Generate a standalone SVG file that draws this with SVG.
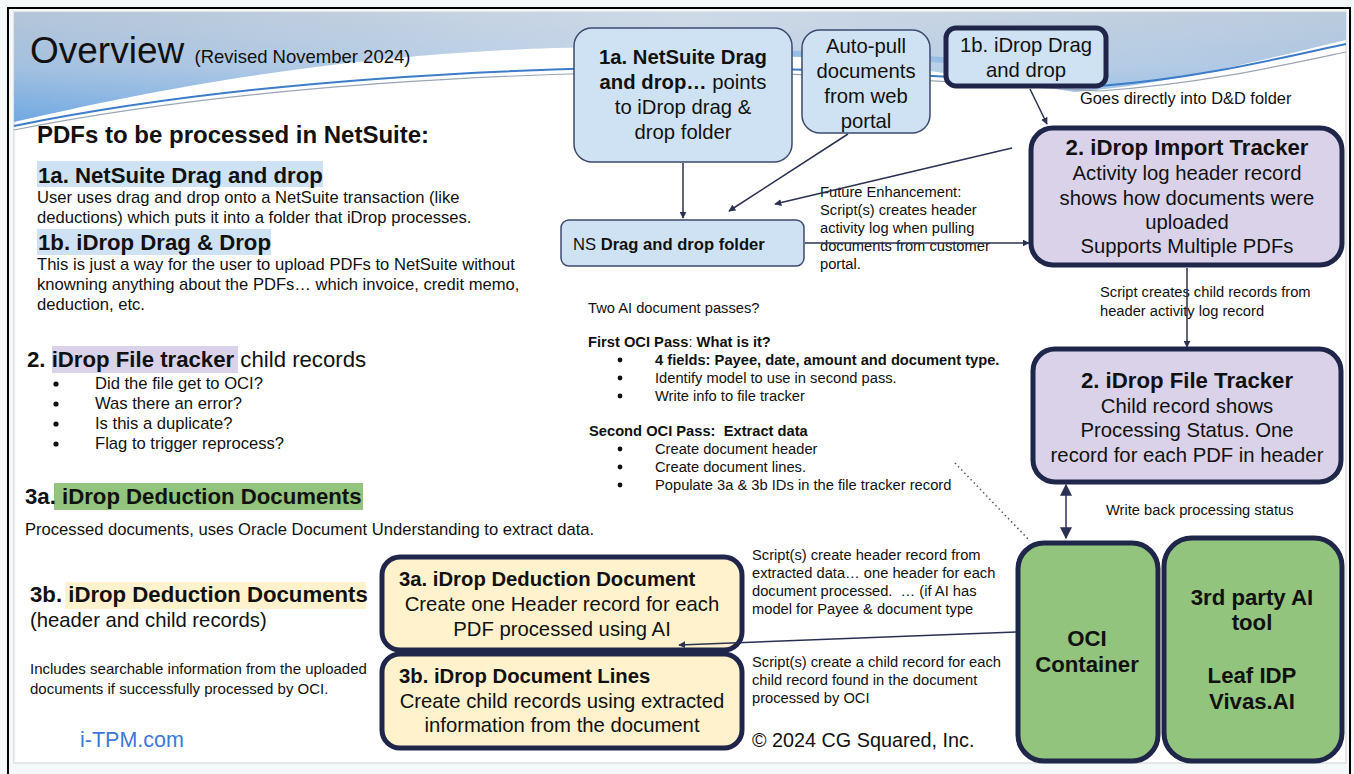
<svg xmlns="http://www.w3.org/2000/svg" width="1354" height="774" viewBox="0 0 1354 774">
<defs>
<linearGradient id="bandG" x1="0" y1="0" x2="0" y2="1">
<stop offset="0" stop-color="#b4c5d8"/>
<stop offset="0.5" stop-color="#a3c0e0"/>
<stop offset="1" stop-color="#70a9e2"/>
</linearGradient>
<linearGradient id="bandH" x1="0" y1="0" x2="1" y2="0">
<stop offset="0" stop-color="#ffffff" stop-opacity="0"/>
<stop offset="0.5" stop-color="#ffffff" stop-opacity="0.35"/>
<stop offset="1" stop-color="#ffffff" stop-opacity="0.1"/>
</linearGradient>
<marker id="ah" viewBox="0 0 10 10" refX="9" refY="5" markerWidth="7" markerHeight="7" orient="auto-start-reverse" markerUnits="userSpaceOnUse">
<path d="M0,0 L10,5 L0,10 Z" fill="#2b3152"/>
</marker>
<marker id="ah2" viewBox="0 0 10 10" refX="9" refY="5" markerWidth="12" markerHeight="12" orient="auto-start-reverse" markerUnits="userSpaceOnUse">
<path d="M0,0 L10,5 L0,10 Z" fill="#2b3152"/>
</marker>
</defs>
<style>
text{font-family:"Liberation Sans",Arial,sans-serif;fill:#111}
.b{font-weight:bold}
.c{text-anchor:middle}
.lb{fill:#cfe2f3;stroke:#3e4a6e;stroke-width:1.5}
.thk{stroke:#20264a;stroke-width:5}
.pu{fill:#d9d2e9}
.gr{fill:#93c47d}
.ye{fill:#fff2cc}
.con{stroke:#2b3152;stroke-width:1.5;fill:none}
.sm{font-size:14.7px}
.s15{font-size:15px}
.s16{font-size:16.6px}
.bx{font-size:20.3px}
.s22{font-size:22.2px}
</style>
<rect x="0" y="0" width="1354" height="774" fill="#f4f8f9"/>
<rect x="8" y="8" width="1342" height="780" fill="none" stroke="#000" stroke-width="2"/>
<rect x="14" y="12" width="1332" height="751" fill="#fff" stroke="#cfd4d6" stroke-width="1"/>
<g id="background">
<path d="M14,12 H1346 V40 C1270,58 1170,84 1075,92 C940,72 820,52 600,47 C360,50 160,88 14,122 Z" fill="url(#bandG)"/>
<path d="M14,12 H1346 V40 C1270,58 1170,84 1075,92 C940,72 820,52 600,47 C360,50 160,88 14,122 Z" fill="url(#bandH)"/>
<path d="M14,126 C180,92 380,74 600,68 C800,64 960,78 1100,86 C1200,78 1280,58 1346,44" fill="none" stroke="#3c7cc8" stroke-width="2"/>
<path d="M14,130 C180,97 380,79 600,73 C800,69 960,83 1100,91 C1200,84 1280,66 1346,52" fill="none" stroke="#9aa6b2" stroke-width="1.2"/>
<path d="M700,56 C820,50 930,56 1040,70" fill="none" stroke="#7fb0e4" stroke-width="6" opacity="0.6"/>
</g>
<g id="left-text">
<text x="30" y="63" style="font-size:37px">Overview <tspan style="font-size:18.5px">(Revised November 2024)</tspan></text>
<text x="37" y="143" class="b" style="font-size:24px">PDFs to be processed in NetSuite:</text>
<rect x="37" y="161" width="286" height="26" fill="#cfe2f3"/>
<text x="38" y="183" class="b s22">1a. NetSuite Drag and drop</text>
<text x="37" y="203" class="s16">User uses drag and drop onto a NetSuite transaction (like</text>
<text x="37" y="223" class="s16">deductions) which puts it into a folder that iDrop processes.</text>
<rect x="37" y="229" width="234" height="26" fill="#cfe2f3"/>
<text x="38" y="250" class="b s22">1b. iDrop Drag &amp; Drop</text>
<text x="37" y="270" class="s16">This is just a way for the user to upload PDFs to NetSuite without</text>
<text x="37" y="290" class="s16">knowning anything about the PDFs… which invoice, credit memo,</text>
<text x="37" y="310" class="s16">deduction, etc.</text>
<rect x="52" y="346" width="186" height="27" fill="#d9d2e9"/>
<text x="27" y="367" class="s22"><tspan class="b">2. iDrop File tracker</tspan> child records</text>
<g class="s16">
<circle cx="56" cy="384" r="2.6" fill="#111"/><text x="95" y="389">Did the file get to OCI?</text>
<circle cx="56" cy="404" r="2.6" fill="#111"/><text x="95" y="409">Was there an error?</text>
<circle cx="56" cy="424" r="2.6" fill="#111"/><text x="95" y="429">Is this a duplicate?</text>
<circle cx="56" cy="444" r="2.6" fill="#111"/><text x="95" y="449">Flag to trigger reprocess?</text>
</g>
<rect x="54" y="483" width="309" height="27" fill="#93c47d"/>
<text x="25" y="504" class="b s22">3a. iDrop Deduction Documents</text>
<text x="25" y="535" class="s16">Processed documents, uses Oracle Document Understanding to extract data.</text>
<rect x="65" y="582" width="301" height="27" fill="#fff2cc"/>
<text x="30" y="602" class="b s22">3b. iDrop Deduction Documents</text>
<text x="30" y="627" style="font-size:20.3px">(header and child records)</text>
<text x="30" y="674" class="s15">Includes searchable information from the uploaded</text>
<text x="30" y="694" class="s15">documents if successfully processed by OCI.</text>
<text x="80" y="747" style="font-size:21.5px;fill:#3c78d8">i-TPM.com</text>
</g>
<g id="middle-text" class="sm">
<text x="588" y="313">Two AI document passes?</text>
<text x="588" y="347"><tspan class="b">First OCI Pass</tspan>: <tspan class="b">What is it?</tspan></text>
<circle cx="620" cy="360" r="2.4" fill="#111"/><text x="655" y="365" class="b">4 fields: Payee, date, amount and document type.</text>
<circle cx="620" cy="378" r="2.4" fill="#111"/><text x="655" y="383">Identify model to use in second pass.</text>
<circle cx="620" cy="396" r="2.4" fill="#111"/><text x="655" y="401">Write info to file tracker</text>
<text x="589" y="436" class="b">Second OCI Pass:&#160; Extract data</text>
<circle cx="620" cy="449" r="2.4" fill="#111"/><text x="655" y="454">Create document header</text>
<circle cx="620" cy="467" r="2.4" fill="#111"/><text x="655" y="472">Create document lines.</text>
<circle cx="620" cy="485" r="2.4" fill="#111"/><text x="655" y="490">Populate 3a &amp; 3b IDs in the file tracker record</text>
<text x="820" y="197">Future Enhancement:</text>
<text x="820" y="215">Script(s) creates header</text>
<text x="820" y="233">activity log when pulling</text>
<text x="820" y="251">documents from customer</text>
<text x="820" y="269">portal.</text>
<text x="1080" y="104" style="font-size:16.4px">Goes directly into D&amp;D folder</text>
<text x="1100" y="297">Script creates child records from</text>
<text x="1100" y="316">header activity log record</text>
<text x="1106" y="515">Write back processing status</text>
<text x="752" y="560">Script(s) create header record from</text>
<text x="752" y="578">extracted data… one header for each</text>
<text x="752" y="596">document processed.&#160; … (if AI has</text>
<text x="752" y="614">model for Payee &amp; document type</text>
<text x="752" y="667">Script(s) create a child record for each</text>
<text x="752" y="685">child record found in the document</text>
<text x="752" y="703">processed by OCI</text>
<text x="752" y="747" style="font-size:19.8px">© 2024 CG Squared, Inc.</text>
</g>
<g id="n1a">
<rect x="574" y="28" width="218" height="134" rx="18" class="lb"/>
<text x="683" y="64" class="c bx b">1a. NetSuite Drag</text>
<text x="683" y="89" class="c bx"><tspan class="b">and drop…</tspan> points</text>
<text x="683" y="114" class="c bx">to iDrop drag &amp;</text>
<text x="683" y="139" class="c bx">drop folder</text>
</g>
<g id="nAuto">
<rect x="802" y="30" width="128" height="103" rx="18" class="lb"/>
<text x="866" y="53" class="c bx">Auto-pull</text>
<text x="866" y="78" class="c bx">documents</text>
<text x="866" y="103" class="c bx">from web</text>
<text x="866" y="128" class="c bx">portal</text>
</g>
<g id="n1b">
<rect x="946" y="28" width="160" height="58" rx="10" fill="#cfe2f3" class="thk"/>
<text x="1026" y="52" class="c bx">1b. iDrop Drag</text>
<text x="1026" y="77" class="c bx">and drop</text>
</g>
<g id="nFolder">
<rect x="561" y="220" width="243" height="46" rx="8" class="lb"/>
<text x="573" y="250" style="font-size:16.6px">NS <tspan class="b">Drag and drop folder</tspan></text>
</g>
<g id="nImport">
<rect x="1031" y="128" width="311" height="137" rx="22" class="pu thk"/>
<text x="1187" y="155" class="c b s22">2. iDrop Import Tracker</text>
<text x="1187" y="180" class="c bx">Activity log header record</text>
<text x="1187" y="205" class="c bx">shows how documents were</text>
<text x="1187" y="229" class="c bx">uploaded</text>
<text x="1187" y="253" class="c bx">Supports Multiple PDFs</text>
</g>
<g id="nFile">
<rect x="1033" y="349" width="308" height="133" rx="22" class="pu thk"/>
<text x="1187" y="388" class="c b s22">2. iDrop File Tracker</text>
<text x="1187" y="413" class="c bx">Child record shows</text>
<text x="1187" y="437" class="c bx">Processing Status. One</text>
<text x="1187" y="462" class="c bx">record for each PDF in header</text>
</g>
<g id="nOCI">
<rect x="1018" y="543" width="140" height="218" rx="26" class="gr thk"/>
<text x="1087" y="646" class="c b s22">OCI</text>
<text x="1087" y="672" class="c b s22">Container</text>
</g>
<g id="nAI">
<rect x="1164" y="538" width="178" height="223" rx="28" class="gr thk"/>
<text x="1252" y="605" class="c b s22">3rd party AI</text>
<text x="1252" y="630" class="c b s22">tool</text>
<text x="1252" y="683" class="c b s22">Leaf IDP</text>
<text x="1252" y="709" class="c b s22">Vivas.AI</text>
</g>
<g id="n3a">
<rect x="382" y="557" width="360" height="93" rx="18" class="ye thk"/>
<text x="399" y="586" class="b bx">3a. iDrop Deduction Document</text>
<text x="562" y="611" class="c bx">Create one Header record for each</text>
<text x="562" y="636" class="c bx">PDF processed using AI</text>
</g>
<g id="n3b">
<rect x="382" y="654" width="360" height="94" rx="18" class="ye thk"/>
<text x="399" y="683" class="b bx">3b. iDrop Document Lines</text>
<text x="562" y="708" class="c bx">Create child records using extracted</text>
<text x="562" y="732" class="c bx">information from the document</text>
</g>
<g id="connectors">
<line x1="683" y1="163" x2="683" y2="218" class="con" marker-end="url(#ah)"/>
<line x1="848" y1="134" x2="729" y2="211" class="con" marker-end="url(#ah)"/>
<line x1="1012" y1="148" x2="775" y2="204" class="con" marker-end="url(#ah)"/>
<line x1="1030" y1="89" x2="1047" y2="124" class="con" marker-end="url(#ah)"/>
<line x1="805" y1="243" x2="1029" y2="243" class="con" marker-end="url(#ah)"/>
<line x1="1187" y1="268" x2="1187" y2="347" class="con" marker-end="url(#ah)"/>
<line x1="1066" y1="485" x2="1066" y2="538" class="con" stroke-width="2" marker-start="url(#ah2)" marker-end="url(#ah2)"/>
<line x1="955" y1="463" x2="1030" y2="541" stroke="#555" stroke-width="1.5" stroke-dasharray="1.5,3"/>
<line x1="1016" y1="632" x2="679" y2="645" class="con" marker-end="url(#ah)"/>
</g>
</svg>
